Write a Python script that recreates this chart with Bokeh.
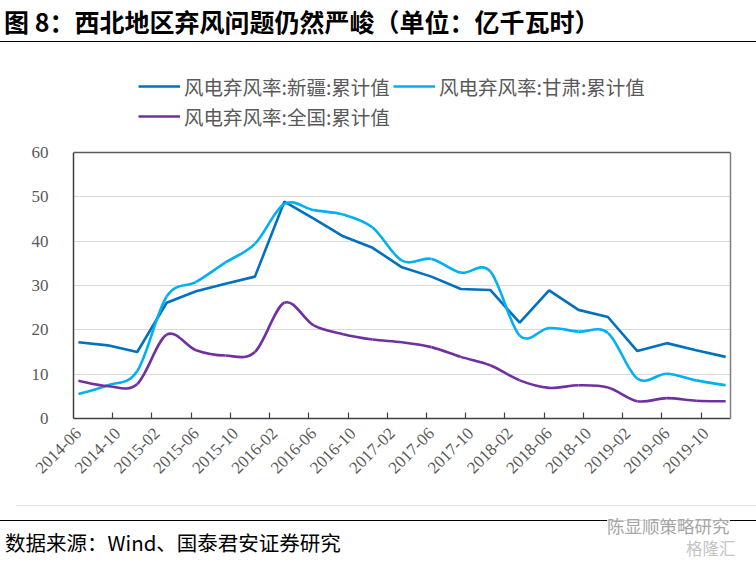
import math
from bokeh.plotting import figure
from bokeh.layouts import column
from bokeh.models import (Range1d, LinearAxis, FixedTicker, Grid, Legend,
                          LegendItem, Span, Div)
from bokeh.embed import file_html
from bokeh.resources import INLINE

# ---------------- data (quarterly cumulative values, %) ----------------
periods = ["2014-06", "2014-09", "2014-12", "2015-03", "2015-06", "2015-09",
           "2015-12", "2016-03", "2016-06", "2016-09", "2016-12", "2017-03",
           "2017-06", "2017-09", "2017-12", "2018-03", "2018-06", "2018-09",
           "2018-12", "2019-03", "2019-06", "2019-09", "2019-12"]
xinjiang = [17.2, 16.5, 15.0, 26.1, 28.7, 30.4, 32.0, 48.9, 45.1, 41.1, 38.5, 34.1,
            32.0, 29.2, 29.0, 21.6, 28.9, 24.5, 22.9, 15.2, 17.0, 15.4, 13.9]
gansu = [5.5, 7.5, 10.7, 27.5, 30.8, 35.2, 39.4, 48.4, 47.0, 46.0, 43.1, 35.6,
         36.0, 32.9, 33.2, 18.7, 20.4, 19.6, 19.3, 9.0, 10.1, 8.6, 7.5]
national = [8.5, 7.3, 7.8, 18.9, 15.4, 14.2, 15.0, 26.1, 21.0, 19.0, 17.8, 17.2,
            16.1, 13.9, 12.0, 8.6, 6.9, 7.5, 7.0, 3.9, 4.6, 4.0, 3.9]
series_names = ["风电弃风率:新疆:累计值", "风电弃风率:甘肃:累计值", "风电弃风率:全国:累计值"]
x_tick_labels = ["2014-06", "2014-10", "2015-02", "2015-06", "2015-10", "2016-02",
                 "2016-06", "2016-10", "2017-02", "2017-06", "2017-10", "2018-02",
                 "2018-06", "2018-10", "2019-02", "2019-06", "2019-10"]
y_ticks = [0, 10, 20, 30, 40, 50, 60]
title_text = "图 8：西北地区弃风问题仍然严峻（单位：亿千瓦时）"
source_text = "数据来源：Wind、国泰君安证券研究"
watermark_text = "陈显顺策略研究"
logo_text = "格隆汇"

# monthly category axis (2014-06 .. 2019-12)
def month_index(s):
    y, m = s.split("-")
    return (int(y) - 2014) * 12 + int(m) - 6

x_pts = [month_index(s) for s in periods]
n_cats = month_index("2019-12") + 1
label_pos = [month_index(s) for s in x_tick_labels]
boundary_ticks = [k * 4 - 0.5 for k in range(1, 17)]

GRAY = "#595959"
SERIF = "Liberation Serif"
CJK = "Noto Sans CJK SC"
W = 756

# ---------------- title strip (page y 0..44) ----------------
HA = 44
title_div = Div(
    text=(f'<div style="position:relative;width:{W}px;height:{HA}px;'
          f'font-family:\'{CJK}\';">'
          f'<div style="position:absolute;left:4px;top:5px;font-size:25px;'
          f'font-weight:bold;line-height:32px;color:#000;white-space:nowrap;">'
          f'{title_text}</div>'
          f'<div style="position:absolute;left:0;width:{W}px;top:41px;'
          f'border-top:1.6px solid #000;"></div></div>'),
    width=W, height=HA, margin=0)

# ---------------- chart (page y 44..505) ----------------
HC = 56
HB = 561 - HA - HC
TOP_PAGE = HA
FR_L, FR_R, FR_T, FR_B = 73, 730, 60, 418   # frame edges (page px)
V60_PAGE = 152                               # where value 60 sits (page px)
X0, X1 = -0.5, n_cats - 0.5
Y1 = 60 * (FR_B - FR_T) / (FR_B - V60_PAGE)

pb = figure(width=W, height=HB, output_backend="svg", toolbar_location=None,
            x_axis_type=None, y_axis_type=None,
            x_range=Range1d(X0, X1), y_range=Range1d(0, Y1),
            min_border_left=FR_L, min_border_right=W - FR_R,
            min_border_top=FR_T - TOP_PAGE,
            min_border_bottom=TOP_PAGE + HB - FR_B, margin=0)
pb.outline_line_color = None

# y axis (left) with line only over 0..60
yax = LinearAxis(ticker=FixedTicker(ticks=y_ticks), bounds=(0, 60))
yax.axis_line_color = "#404040"
yax.axis_line_width = 1.5
yax.major_tick_line_color = None
yax.minor_tick_line_color = None
yax.major_label_text_font = SERIF
yax.major_label_text_font_size = "17px"
yax.major_label_text_color = GRAY
yax.major_label_standoff = 19
pb.add_layout(yax, "left")

# right border
rax = LinearAxis(ticker=FixedTicker(ticks=[]), bounds=(0, 60))
rax.axis_line_color = "#7F7F7F"
rax.axis_line_width = 1.5
rax.major_tick_line_color = None
rax.minor_tick_line_color = None
pb.add_layout(rax, "right")

# top border
pb.add_layout(Span(location=60, dimension="width", line_color="#595959", line_width=1.5))

pb.add_layout(Grid(dimension=1, ticker=FixedTicker(ticks=y_ticks[1:-1]),
                   grid_line_color="#D9D9D9", grid_line_width=1.2))

# x axis: tick marks at category boundaries
xax = LinearAxis(ticker=FixedTicker(ticks=boundary_ticks))
xax.axis_line_color = "#404040"
xax.axis_line_width = 1.5
xax.major_tick_line_color = "#404040"
xax.major_tick_line_width = 1.2
xax.major_tick_in = 6
xax.major_tick_out = 0
xax.minor_tick_line_color = None
xax.major_label_overrides = {t: "" for t in boundary_ticks}
xax.major_label_standoff = 0
xax.major_label_text_font_size = "1px"
pb.add_layout(xax, "below")

# x labels
xlab = LinearAxis(ticker=FixedTicker(ticks=label_pos))
xlab.axis_line_color = None
xlab.major_tick_line_color = None
xlab.minor_tick_line_color = None
xlab.major_label_overrides = {pos: lab for pos, lab in zip(label_pos, x_tick_labels)}
xlab.major_label_orientation = math.pi / 4
xlab.major_label_text_font = SERIF
xlab.major_label_text_font_size = "17px"
xlab.major_label_text_color = GRAY
xlab.major_label_standoff = 6
pb.add_layout(xlab, "below")

# ---------------- series ----------------
C_XJ, C_GS, C_NA = "#0070C0", "#00B0F0", "#7030A0"

r_xj = pb.line(x_pts, xinjiang, line_color=C_XJ, line_width=2.6)

def smooth(xs, ys):
    n = len(xs)
    P = list(zip(xs, ys))
    out = {k: [] for k in ("x0", "y0", "x1", "y1", "cx0", "cy0", "cx1", "cy1")}
    for i in range(n - 1):
        pm = P[i - 1] if i > 0 else P[i]
        p0, p1 = P[i], P[i + 1]
        p2 = P[i + 2] if i + 2 < n else P[i + 1]
        out["x0"].append(p0[0]); out["y0"].append(p0[1])
        out["x1"].append(p1[0]); out["y1"].append(p1[1])
        out["cx0"].append(p0[0] + (p1[0] - pm[0]) / 6)
        out["cy0"].append(p0[1] + (p1[1] - pm[1]) / 6)
        out["cx1"].append(p1[0] - (p2[0] - p0[0]) / 6)
        out["cy1"].append(p1[1] - (p2[1] - p0[1]) / 6)
    return out

r_gs = pb.bezier(**smooth(x_pts, gansu), line_color=C_GS, line_width=2.6)
r_na = pb.bezier(**smooth(x_pts, national), line_color=C_NA, line_width=2.6)

LEG_LEFT, LEG_TOP, LEG_ROW = 138, 71, 30
legend = Legend(items=[LegendItem(label=series_names[0], renderers=[r_xj]),
                       LegendItem(label=series_names[1], renderers=[r_gs]),
                       LegendItem(label=series_names[2], renderers=[r_na])],
                location=(LEG_LEFT - FR_L, FR_B - LEG_TOP - 2 * LEG_ROW),
                orientation="horizontal", ncols=2,
                glyph_width=42, glyph_height=LEG_ROW, label_standoff=4, label_width=209,
                spacing=0, padding=0, margin=0, border_line_color=None,
                background_fill_alpha=0,
                label_text_font=CJK, label_text_font_size="19.5px",
                label_text_color=GRAY)
pb.add_layout(legend)

# ---------------- footer (page y 505..561) ----------------
footer_div = Div(
    text=(f'<div style="position:relative;width:{W}px;height:{HC}px;'
          f'font-family:\'{CJK}\';">'
          f'<div style="position:absolute;left:16px;width:{W - 16}px;top:0;'
          f'border-top:1px solid #E6E6E6;"></div>'
          f'<div style="position:absolute;left:0;width:{W}px;top:15px;'
          f'border-top:1.6px solid #000;"></div>'
          f'<div style="position:absolute;left:5px;top:23px;font-size:20.5px;'
          f'line-height:28px;color:#000;white-space:nowrap;">{source_text}</div>'
          f'<div style="position:absolute;left:607px;top:11px;font-size:17.5px;'
          f'line-height:20px;color:#A6A6A6;background:rgba(255,255,255,0.85);'
          f'white-space:nowrap;">{watermark_text}</div>'
          f'<div style="position:absolute;left:686px;top:34px;font-size:16.5px;'
          f'line-height:18px;color:#C4C4C4;white-space:nowrap;">{logo_text}</div>'
          f'</div>'),
    width=W, height=HC, margin=0)

layout = column(title_div, pb, footer_div, spacing=0)
open("out.html", "w").write(file_html(layout, INLINE))
